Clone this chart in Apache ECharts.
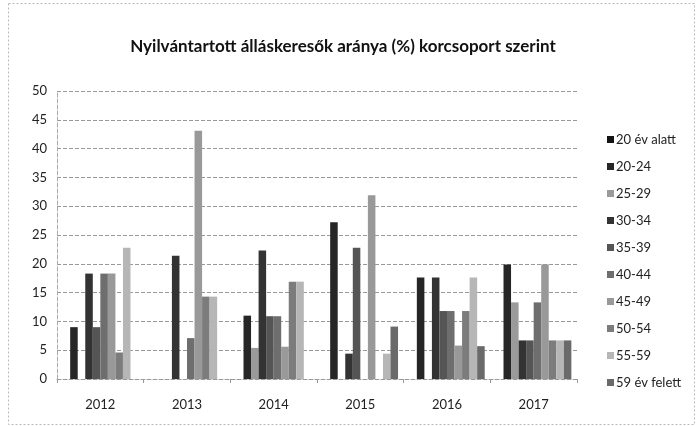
<!DOCTYPE html>
<html>
<head>
<meta charset="utf-8">
<script src="https://cdn.jsdelivr.net/npm/echarts@6/dist/echarts.min.js"></script>
<style>
  html, body { margin: 0; padding: 0; background: #fff; }
  #chart { width: 696px; height: 426px; }
</style>
</head>
<body>
<div id="chart"></div>
<script>
// Data (percent per age group, per year)
const years = ['2012', '2013', '2014', '2015', '2016', '2017'];
const groups = ['20 év alatt', '20-24', '25-29', '30-34', '35-39', '40-44', '45-49', '50-54', '55-59', '59 év felett'];
const under20 = [0, 0, 0, 0, 0, 0];
const g20_24 = [9, 0, 11, 27.2, 17.6, 19.9];
const g25_29 = [0, 0, 5.4, 0, 0, 13.3];
const g30_34 = [18.3, 21.4, 22.3, 4.4, 17.6, 6.7];
const g35_39 = [9, 0, 10.9, 22.8, 11.8, 6.7];
const g40_44 = [18.3, 7.1, 10.9, 0, 11.8, 13.3];
const g45_49 = [18.3, 43.1, 5.6, 31.9, 5.8, 19.9];
const g50_54 = [4.6, 14.3, 16.9, 0, 11.8, 6.7];
const g55_59 = [22.8, 14.3, 16.9, 4.4, 17.6, 6.7];
const over59 = [0, 0, 0, 9.1, 5.7, 6.7];
const seriesValues = [under20, g20_24, g25_29, g30_34, g35_39, g40_44, g45_49, g50_54, g55_59, over59];
const yTicks = [0, 50, 5];

// grayscale look of the scanned chart
const grays = ['#141414', '#262626', '#9a9a9a', '#333333', '#555555', '#6e6e6e', '#999999', '#7c7c7c', '#b6b6b6', '#6a6a6a'];

const chart = echarts.init(document.getElementById('chart'));
const font = 'Lato, "Noto Sans", sans-serif';

chart.setOption({
  animation: false,
  textStyle: { fontFamily: font },
  title: {
    text: 'Nyilvántartott álláskeresők aránya (%) korcsoport szerint',
    left: 338, top: 33, textAlign: 'center',
    textStyle: { fontSize: 17, fontWeight: 'bold', color: '#111', fontFamily: font }
  },
  legend: {
    orient: 'vertical',
    left: 602, top: 128,
    itemWidth: 7, itemHeight: 7, itemGap: 14,
    icon: 'rect',
    textStyle: { fontSize: 13, color: '#222', padding: [0, 0, 0, -3] },
    data: groups
  },
  grid: { left: 57, right: 119, top: 91, bottom: 47 },
  xAxis: {
    type: 'category',
    data: years,
    axisLine: { lineStyle: { color: '#999', type: 'dashed' } },
    axisTick: { show: true, length: 4, lineStyle: { color: '#999' } },
    axisLabel: { fontSize: 13, color: '#222', margin: 19 }
  },
  yAxis: {
    type: 'value',
    min: yTicks[0], max: yTicks[1], interval: yTicks[2],
    axisLine: { show: true, lineStyle: { color: '#aaa', type: 'dashed' } },
    splitLine: { lineStyle: { color: '#999', type: 'dashed' } },
    axisLabel: { fontSize: 13, color: '#222', margin: 10 }
  },
  series: groups.map((name, i) => ({
    name: name,
    type: 'bar',
    data: seriesValues[i],
    barGap: 0,
    barCategoryGap: '13%',
    itemStyle: { color: grays[i] }
  })),
  graphic: [{
    type: 'rect',
    shape: { x: 8.5, y: 3.5, width: 686, height: 421 },
    style: { fill: 'none', stroke: '#bbb', lineWidth: 1, lineDash: [2, 2] },
    silent: true
  }]
});
</script>
</body>
</html>
